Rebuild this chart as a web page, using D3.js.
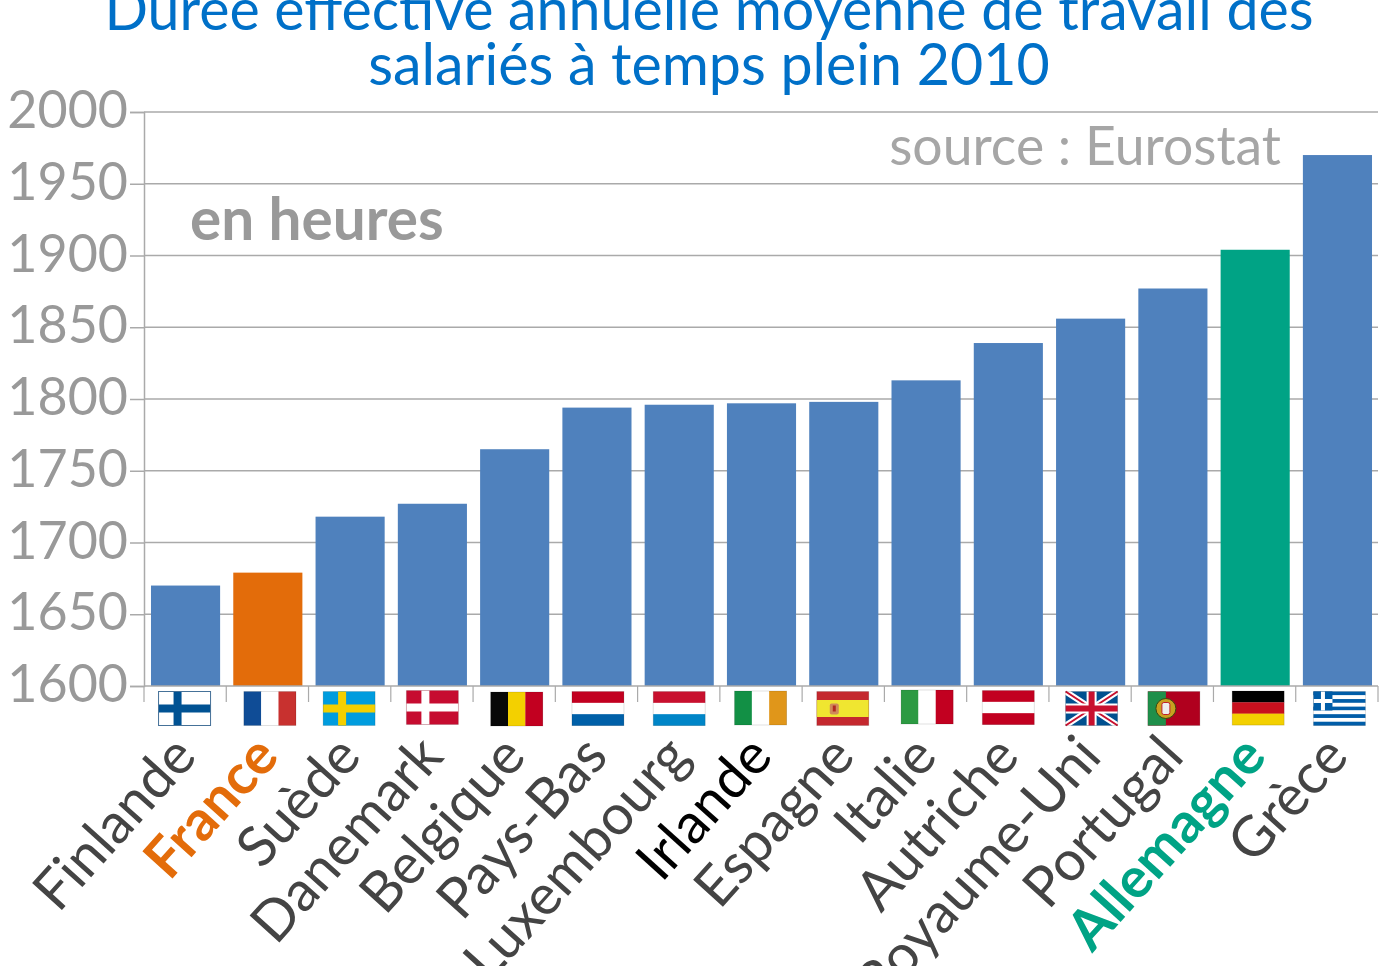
<!DOCTYPE html>
<html>
<head>
<meta charset="utf-8">
<script src="https://d3js.org/d3.v7.min.js"></script>
<style>
  html, body { margin: 0; padding: 0; background: #fff; overflow: hidden; }
  text { font-family: Lato, sans-serif; }
</style>
</head>
<body>
<svg id="chart" width="1390" height="966"></svg>
<script>
const countries = ['Finlande', 'France', 'Suède', 'Danemark', 'Belgique', 'Pays-Bas', 'Luxembourg', 'Irlande',
  'Espagne', 'Italie', 'Autriche', 'Royaume-Uni', 'Portugal', 'Allemagne', 'Grèce'];
const hours = [1670, 1679, 1718, 1727, 1765, 1794, 1796, 1797, 1798, 1813, 1839, 1856, 1877, 1904, 1970];
const yTicks = [1600, 1650, 1700, 1750, 1800, 1850, 1900, 1950, 2000];
const titleLines = ['Durée effective annuelle moyenne de travail des', 'salariés à temps plein 2010'];

const blue = '#4f81bd', orange = '#e36c0a', green = '#00a385';
const barColor = { France: orange, Allemagne: green };
const labelColor = { France: orange, Allemagne: green, Irlande: '#000' };

const svg = d3.select('#chart');
const x = d3.scaleBand().domain(countries).range([144, 1379]).paddingInner(0.16).paddingOuter(0.085);
const edge = d3.scaleLinear().domain([0, countries.length]).range([144, 1378]);
const y = d3.scaleLinear().domain([1600, 2000]).range([686, 112]);

// title
svg.selectAll('.title').data(titleLines).join('text')
  .attr('class', 'title')
  .attr('x', 709)
  .attr('y', (d, i) => 30 + i * 55)
  .attr('text-anchor', 'middle')
  .attr('font-size', 57.3)
  .attr('fill', '#0070c8')
  .text(d => d);

// grid + y axis
const yAxis = d3.axisLeft(y).tickValues(yTicks).tickSize(14).tickFormat(d3.format('d'));
const gy = svg.append('g').attr('transform', 'translate(144,0)').call(yAxis);
gy.select('.domain').attr('stroke', '#aaa').attr('stroke-width', 1.5);
gy.selectAll('.tick line').attr('stroke', '#aaa').attr('stroke-width', 1.5);
gy.selectAll('.tick text').attr('font-size', 52).attr('fill', '#999').attr('x', -16).attr('dy', '0.3em')
  .style('font-family', 'Lato, sans-serif');
svg.selectAll('.grid').data(yTicks.slice(1)).join('line')
  .attr('class', 'grid')
  .attr('x1', 144).attr('x2', 1378)
  .attr('y1', d => y(d)).attr('y2', d => y(d))
  .attr('stroke', '#aaa').attr('stroke-width', 1.5);

// bars
svg.selectAll('.bar').data(countries).join('rect')
  .attr('class', 'bar')
  .attr('x', d => x(d))
  .attr('width', x.bandwidth())
  .attr('y', (d, i) => y(hours[i]))
  .attr('height', (d, i) => y(1600) - y(hours[i]))
  .attr('fill', d => barColor[d] || blue);

// x axis line + ticks on the band edges
svg.append('line').attr('x1', 144).attr('x2', 1378).attr('y1', 686).attr('y2', 686)
  .attr('stroke', '#aaa').attr('stroke-width', 1.5);
svg.selectAll('.xtick').data(d3.range(countries.length + 1)).join('line')
  .attr('class', 'xtick')
  .attr('x1', d => edge(d)).attr('x2', d => edge(d))
  .attr('y1', 686).attr('y2', 702)
  .attr('stroke', '#aaa').attr('stroke-width', 1.2);

// flags
const FW = 52, FH = 34;
function vert(cols) { return g => cols.forEach((c, i) => g.append('rect').attr('x', i * FW / 3).attr('width', FW / 3 + 0.2).attr('height', FH).attr('fill', c)); }
function horiz(cols) { return g => cols.forEach((c, i) => g.append('rect').attr('y', i * FH / 3).attr('width', FW).attr('height', FH / 3 + 0.2).attr('fill', c)); }
function nordic(bg, c) {
  return g => {
    g.append('rect').attr('width', FW).attr('height', FH).attr('fill', bg);
    g.append('rect').attr('x', 15).attr('width', 8).attr('height', FH).attr('fill', c);
    g.append('rect').attr('y', 13).attr('width', FW).attr('height', 8).attr('fill', c);
  };
}
const flags = {
  Finlande: g => { nordic('#fff', '#005293')(g); g.append('rect').attr('width', FW).attr('height', FH).attr('fill', 'none').attr('stroke', '#4f81ad'); },
  France: vert(['#0f4c96', '#fff', '#c8312f']),
  'Suède': nordic('#009cde', '#f4cf00'),
  Danemark: nordic('#c60c30', '#fff'),
  Belgique: vert(['#080808', '#f3d000', '#c20020']),
  'Pays-Bas': horiz(['#c20020', '#fff', '#0060a8']),
  Luxembourg: horiz(['#c8102e', '#fff', '#0085c7']),
  Irlande: vert(['#129045', '#fff', '#e0961a']),
  Espagne: g => {
    g.append('rect').attr('width', FW).attr('height', FH).attr('fill', '#c4282e');
    g.append('rect').attr('y', 8.5).attr('width', FW).attr('height', 17).attr('fill', '#f0e630');
    g.append('rect').attr('x', 13).attr('y', 12).attr('width', 9).attr('height', 11).attr('rx', 2).attr('fill', '#d08a5a');
    g.append('rect').attr('x', 16).attr('y', 14).attr('width', 3).attr('height', 6).attr('fill', '#b02a20');
  },
  Italie: vert(['#2c9a42', '#fff', '#c20020']),
  Autriche: horiz(['#c20020', '#fff', '#c20020']),
  'Royaume-Uni': g => {
    g.append('rect').attr('width', FW).attr('height', FH).attr('fill', '#00508f');
    g.append('path').attr('d', `M0,0L${FW},${FH}M${FW},0L0,${FH}`).attr('stroke', '#fff').attr('stroke-width', 6);
    g.append('path').attr('d', `M0,0L${FW},${FH}M${FW},0L0,${FH}`).attr('stroke', '#c8102e').attr('stroke-width', 2);
    g.append('path').attr('d', `M${FW / 2},0V${FH}M0,${FH / 2}H${FW}`).attr('stroke', '#fff').attr('stroke-width', 10);
    g.append('path').attr('d', `M${FW / 2},0V${FH}M0,${FH / 2}H${FW}`).attr('stroke', '#c8102e').attr('stroke-width', 6);
  },
  Portugal: g => {
    g.append('rect').attr('width', FW).attr('height', FH).attr('fill', '#b0001e');
    g.append('rect').attr('width', 18).attr('height', FH).attr('fill', '#1f8f4a');
    g.append('circle').attr('cx', 18).attr('cy', 17).attr('r', 10).attr('fill', '#c8a020').attr('stroke', '#3a4a10');
    g.append('rect').attr('x', 14).attr('y', 11).attr('width', 8).attr('height', 12).attr('rx', 2).attr('fill', '#eee').attr('stroke', '#c0202a');
  },
  Allemagne: horiz(['#000', '#c8101e', '#f3d000']),
  'Grèce': g => {
    d3.range(9).forEach(i => g.append('rect').attr('y', i * FH / 9).attr('width', FW).attr('height', FH / 9 + 0.1).attr('fill', i % 2 ? '#fff' : '#005da8'));
    g.append('rect').attr('width', 19).attr('height', 19).attr('fill', '#005da8');
    g.append('rect').attr('x', 7.5).attr('width', 4).attr('height', 19).attr('fill', '#fff');
    g.append('rect').attr('y', 7.5).attr('width', 19).attr('height', 4).attr('fill', '#fff');
  }
};
// the flags were pasted by hand in the original, so they sit a bit off centre
const flagNudge = { Finlande: [-1, 0], France: [2, 0], 'Suède': [-1, 0], Belgique: [2, 0.5], 'Pays-Bas': [1, 0], Irlande: [-1, -0.5],
  Espagne: [-1, 0], Italie: [1, -1.5], Danemark: [0, -1], Autriche: [0, -1], 'Royaume-Uni': [1, 0], Portugal: [1, 0], Allemagne: [3, -0.5], 'Grèce': [2, 0] };
countries.forEach(c => {
  const n = flagNudge[c] || [0, 0];
  const g = svg.append('g').attr('transform', `translate(${x(c) + x.bandwidth() / 2 - FW / 2 + n[0]},${691.5 + n[1]})`);
  flags[c](g);
  g.append('rect').attr('width', FW).attr('height', FH).attr('fill', 'none').attr('stroke', '#000').attr('stroke-opacity', 0.12);
});

// rotated category labels
svg.selectAll('.label').data(countries).join('text')
  .attr('class', 'label')
  .attr('transform', d => `translate(${x(d) + x.bandwidth() / 2 + 13},758) rotate(-48)`)
  .attr('text-anchor', 'end')
  .attr('font-size', 56)
  .attr('font-weight', d => labelColor[d] && d !== 'Irlande' ? 700 : 400)
  .attr('fill', d => labelColor[d] || '#444')
  .text(d => d);

// annotations
svg.append('text').attr('x', 1281).attr('y', 165).attr('text-anchor', 'end')
  .attr('font-size', 53.5).attr('fill', '#a6a6a6').text('source : Eurostat');
svg.append('text').attr('x', 190).attr('y', 240)
  .attr('font-size', 58.5).attr('font-weight', 700).attr('fill', '#999').text('en heures');
</script>
</body>
</html>
